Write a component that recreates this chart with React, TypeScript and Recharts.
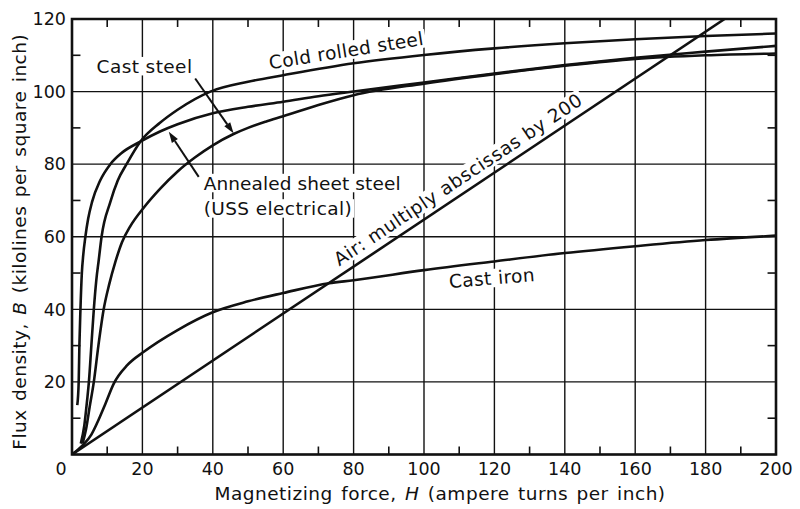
import React from 'react';
import {
  LineChart,
  Line,
  XAxis,
  YAxis,
  CartesianGrid,
  ReferenceLine,
  ReferenceDot,
  ReferenceArea,
  Label,
} from 'recharts';

const FONT = '"DejaVu Sans", "Liberation Sans", sans-serif';
const INK = '#111';
const LABEL_SIZE = 18.5;

// Axis ticks
const xTicks = [0, 20, 40, 60, 80, 100, 120, 140, 160, 180, 200];
const yTicks = [0, 20, 40, 60, 80, 100, 120];
const xMinorTicks = [10, 30, 50, 70, 90, 110, 130, 150, 170, 190];
const yMinorTicks = [10, 30, 50, 70, 90, 110];

// Series: [H (ampere turns per inch), B (kilolines per square inch)]
const coldRolledSteel: [number, number][] = [
  [2.5, 3], [3.5, 8], [4.3, 15], [4.8, 20], [5.5, 30], [6.2, 40], [6.9, 48], [7.6, 53.6],
  [8.4, 60], [10.9, 69.6], [13, 75.5], [15.5, 80], [19.4, 86.2], [25, 91.4], [30, 95],
  [39.3, 100], [50, 102.7], [60, 104.5], [80, 107.8], [100, 110.1], [120, 111.9],
  [140, 113.3], [160, 114.4], [180, 115.3], [200, 116],
];

const annealedSheetSteel: [number, number][] = [
  [1.5, 13.6], [1.9, 20], [2.1, 30], [2.4, 40], [2.8, 50], [3.2, 55], [3.8, 60], [4.6, 65],
  [5.7, 69.6], [8, 75.5], [10.9, 80], [14, 83], [19.4, 86.2], [25, 89], [30, 91], [40, 94],
  [50, 95.8], [60, 97.2], [70, 98.7], [80, 100], [100, 102.5], [120, 105], [140, 107.3],
  [160, 109.3], [180, 111], [200, 112.6],
];

const castSteel: [number, number][] = [
  [3, 3], [4, 7], [5, 13], [6.2, 20], [7.5, 30], [9, 40], [10.6, 47], [12.3, 53],
  [14.2, 58.5], [16.5, 62.8], [20.2, 67.8], [25, 73.2], [30, 78], [35, 81.9], [40, 85.2],
  [45.9, 88.3], [50, 90], [55, 91.7], [60, 93.2], [70, 96.3], [80, 99], [100, 102.2],
  [120, 104.8], [140, 107.1], [160, 109], [180, 110], [200, 110.5],
];

const castIron: [number, number][] = [
  [0, 0], [3, 2.5], [5.5, 5.5], [7.1, 8.6], [9.5, 14], [11.9, 19.6], [15.7, 24.6],
  [20.4, 28.3], [30, 34.3], [40, 39.2], [50, 42.2], [60, 44.5], [73, 47.2], [80, 48],
  [100, 50.8], [120, 53.2], [140, 55.5], [160, 57.4], [180, 59.1], [200, 60.3],
];

const air: [number, number][] = [
  [0, 0], [185.4, 120],
];

// Annotations
const labelTexts = [
  'Cold rolled steel',
  'Cast steel',
  'Annealed sheet steel',
  '(USS electrical)',
  'Air: multiply abscissas by 200',
  'Cast iron',
];
const labelH = [77.9, 20.6, 37.4, 37.4, 109.7, 119.3];
const labelB = [111.3, 107, 74.8, 67.8, 75.8, 48.6];
const labelAngle = [-9, 0, 0, 0, -33.7, -4.6];
const labelAnchor = ['middle', 'middle', 'start', 'start', 'middle', 'middle'];
const labelSpacing = [0.4, 0.4, 0.1, 0.4, 0.6, 0.4];

// Arrows: [fromH, fromB, toH, toB]
const arrows: [number, number, number, number][] = [
  [35, 103.6, 45.9, 88.5],
  [36, 76.5, 27.5, 88.9],
];

const toRows = (pts: [number, number][]) => pts.map(([h, b]) => ({ h, b }));
const series = [coldRolledSteel, annealedSheetSteel, castSteel, castIron, air];

let measureCtx: CanvasRenderingContext2D | null = null;
const measure = (text: string, spacing: number) => {
  if (!measureCtx && typeof document !== 'undefined') {
    measureCtx = document.createElement('canvas').getContext('2d');
  }
  if (!measureCtx) return text.length * LABEL_SIZE * 0.55;
  measureCtx.font = `${LABEL_SIZE}px "DejaVu Sans"`;
  return measureCtx.measureText(text).width + spacing * text.length;
};

const renderLabel = (i: number, cx: number, cy: number) => {
  const w = measure(labelTexts[i], labelSpacing[i]);
  const h = LABEL_SIZE * 1.0;
  const pad = 2;
  const anchor = labelAnchor[i];
  const left = anchor === 'start' ? cx : cx - w / 2;
  return (
    <g transform={`rotate(${labelAngle[i]} ${cx} ${cy})`}>
      <rect x={left - pad} y={cy - h / 2} width={w + pad * 2} height={h} fill="#fff" />
      <text
        x={cx}
        y={cy}
        textAnchor={anchor as any}
        dominantBaseline="central"
        fontFamily={FONT}
        fontSize={LABEL_SIZE}
        letterSpacing={labelSpacing[i]}
        fill={INK}
      >
        {labelTexts[i]}
      </text>
    </g>
  );
};

const makeLabelShape = (i: number) => (p: any) => renderLabel(i, p.cx, p.cy);

const ArrowShape = (p: any) => {
  const { x1, y1, x2, y2 } = p;
  const dx = x2 - x1;
  const dy = y2 - y1;
  const len = Math.sqrt(dx * dx + dy * dy) || 1;
  const ux = dx / len;
  const uy = dy / len;
  const hl = 11;
  const hw = 3.6;
  const bx = x2 - ux * hl;
  const by = y2 - uy * hl;
  const pts = `${x2},${y2} ${bx - uy * hw},${by + ux * hw} ${bx + uy * hw},${by - ux * hw}`;
  return (
    <g>
      <line x1={x1} y1={y1} x2={bx} y2={by} stroke={INK} strokeWidth={2} />
      <polygon points={pts} fill={INK} />
    </g>
  );
};

const XTick = (p: any) => {
  const v = p.payload.value;
  return (
    <text
      x={p.x + (v === 0 ? -11 : 0)}
      y={p.y}
      dy="0.71em"
      textAnchor="middle"
      fontFamily={FONT}
      fontSize={17.5}
      fill={INK}
    >
      {v}
    </text>
  );
};

const YTick = (p: any) => {
  const v = p.payload.value;
  if (v === 0) return <g />;
  return (
    <text
      x={p.x}
      y={p.y}
      dy="0.36em"
      textAnchor="end"
      fontFamily={FONT}
      fontSize={17.5}
      fill={INK}
    >
      {v}
    </text>
  );
};

const XTitle = (p: any) => {
  const vb = p.viewBox || { x: 72, y: 454.5, width: 704, height: 54.5 };
  return (
    <text
      x={vb.x + vb.width / 2 + 16}
      y={vb.y + 45.5}
      textAnchor="middle"
      fontFamily={FONT}
      fontSize={18.5}
      letterSpacing={0.5}
      wordSpacing={2}
      fill={INK}
    >
      Magnetizing force, <tspan fontStyle="italic">H</tspan> (ampere turns per inch)
    </text>
  );
};

const YTitle = (p: any) => {
  const vb = p.viewBox || { x: 0, y: 19, width: 72, height: 435.5 };
  const cx = 19;
  const cy = vb.y + vb.height / 2 + 5;
  return (
    <text
      x={cx}
      y={cy}
      transform={`rotate(-90 ${cx} ${cy})`}
      textAnchor="middle"
      dominantBaseline="central"
      fontFamily={FONT}
      fontSize={18.5}
      letterSpacing={0.5}
      wordSpacing={2}
      fill={INK}
    >
      Flux density, <tspan fontStyle="italic">B</tspan> (kilolines per square inch)
    </text>
  );
};

export default function App() {
  return (
    <div style={{ position: 'absolute', left: 0, top: 0, width: 800, height: 509, background: '#fff' }}>
      <LineChart
        width={800}
        height={509}
        margin={{ top: 19, right: 24, bottom: 0, left: 0 }}
      >
        <CartesianGrid stroke={INK} strokeWidth={1.4} />
        <XAxis
          type="number"
          dataKey="h"
          domain={[0, 200]}
          ticks={xTicks}
          interval={0}
          allowDataOverflow
          axisLine={false}
          tickLine={false}
          tickSize={0}
          tickMargin={8.5}
          height={54.5}
          tick={XTick}
        >
          <Label content={XTitle} />
        </XAxis>
        <YAxis
          type="number"
          dataKey="b"
          domain={[0, 120]}
          ticks={yTicks}
          interval={0}
          allowDataOverflow
          axisLine={false}
          tickLine={false}
          tickSize={0}
          tickMargin={6}
          width={72}
          tick={YTick}
        >
          <Label content={YTitle} />
        </YAxis>

        {labelTexts.map((t, i) => (
          <ReferenceDot
            key={t}
            x={labelH[i]}
            y={labelB[i]}
            r={0}
            ifOverflow="visible"
            zIndex={-50}
            shape={makeLabelShape(i)}
          />
        ))}

        {series.map((s, i) => (
          <Line
            key={i}
            data={toRows(s)}
            dataKey="b"
            type="monotone"
            stroke={INK}
            strokeWidth={2.6}
            dot={false}
            activeDot={false}
            isAnimationActive={false}
          />
        ))}

        {arrows.map((a, i) => (
          <ReferenceLine
            key={`arrow-${i}`}
            segment={[{ x: a[0], y: a[1] }, { x: a[2], y: a[3] }]}
            ifOverflow="visible"
            shape={ArrowShape}
          />
        ))}

        {xMinorTicks.map((v) => (
          <ReferenceLine
            key={`xb-${v}`}
            segment={[{ x: v, y: 0 }, { x: v, y: 2.2 }]}
            stroke={INK}
            strokeWidth={1.6}
          />
        ))}
        {xMinorTicks.map((v) => (
          <ReferenceLine
            key={`xt-${v}`}
            segment={[{ x: v, y: 120 }, { x: v, y: 117.8 }]}
            stroke={INK}
            strokeWidth={1.6}
          />
        ))}
        {yMinorTicks.map((v) => (
          <ReferenceLine
            key={`yl-${v}`}
            segment={[{ x: 0, y: v }, { x: 2.4, y: v }]}
            stroke={INK}
            strokeWidth={1.6}
          />
        ))}
        {yMinorTicks.map((v) => (
          <ReferenceLine
            key={`yr-${v}`}
            segment={[{ x: 200, y: v }, { x: 197.6, y: v }]}
            stroke={INK}
            strokeWidth={1.6}
          />
        ))}

        <ReferenceArea
          x1={0}
          x2={200}
          y1={0}
          y2={120}
          fill="none"
          fillOpacity={0}
          stroke={INK}
          strokeWidth={2.6}
          ifOverflow="visible"
        />
      </LineChart>
    </div>
  );
}
